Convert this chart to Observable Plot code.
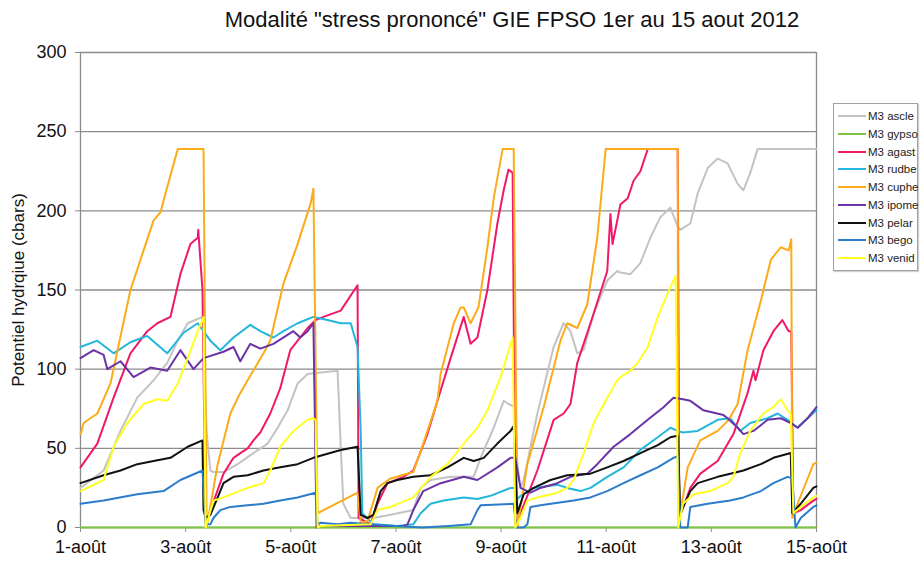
<!DOCTYPE html>
<html>
<head>
<meta charset="utf-8">
<script src="https://cdn.jsdelivr.net/npm/d3@7"></script>
<script src="https://cdn.jsdelivr.net/npm/@observablehq/plot@0.6"></script>
<style>
  body { margin: 0; background: #fff; font-family: "Liberation Sans", Arial, sans-serif; }
  #wrap { position: relative; width: 924px; height: 563px; overflow: hidden; background: #fff; }
  #title { position: absolute; left: 0; top: 0; width: 824px; padding-left: 100px; height: 36px;
           line-height: 40px; text-align: center; font-size: 22px; color: #111; white-space: nowrap; }
  #chart { position: absolute; left: 0; top: 36px; }
  #legend { position: absolute; left: 833px; top: 103px; width: 85px; height: 168px; box-sizing: border-box;
            border: 1px solid #a0a0a0; background: #fff; box-shadow: 1px 1px 1px #d0d0d0; }
  .item { position: absolute; left: 4px; height: 14px; font-size: 11.5px; line-height: 14px; color: #222; white-space: nowrap; }
  .item span.sw { position: absolute; left: 0; top: 6px; width: 28px; height: 2px; }
  .item span.tx { position: absolute; left: 30px; top: 0; }
</style>
</head>
<body>
<div id="wrap">
  <div id="title">Modalité "stress prononcé" GIE FPSO 1er au 15 aout 2012</div>
  <div id="chart"></div>
  <div id="legend"></div>
</div>
<script>
// ---- series names, colours, ticks ----
const seriesNames = ["M3 ascle","M3 gypso","M3 agast","M3 rudbe","M3 cuphe","M3 ipome","M3 pelar","M3 bego","M3 venid"];
const seriesColors = ["#c3c3c3","#7cc540","#f0186b","#22b6dc","#fbab1a","#6a33a6","#111111","#2b7ccb","#ffff22"];
const xTicks = [1,3,5,7,9,11,13,15];
const yTicks = [0,50,100,150,200,250,300];
const yLabel = "Potentiel hydrqiue (cbars)";

// ---- data: [day of August, potential (cbars)] ----
const ascle = [[1.00,25],[1.44,36],[1.76,61],[2.08,82],[2.39,93],[2.65,104],[2.85,118],[3.04,129],[3.32,133],[3.40,60],[3.47,36],[3.53,35],[3.72,35],[3.99,40],[4.29,47],[4.56,53],[4.75,63],[4.94,74],[5.13,91],[5.32,97],[5.62,98],[5.89,99],[5.95,51],[6.00,15],[6.14,6],[6.57,6],[6.90,8],[7.33,11],[7.47,25],[7.66,30],[8.04,32],[8.48,32],[8.61,44],[8.86,63],[9.05,80],[9.14,78],[9.27,76],[9.31,40],[9.37,25],[9.43,30],[9.69,72],[10.00,114],[10.19,129],[10.32,124],[10.45,110],[10.57,112],[10.76,135],[11.02,156],[11.21,162],[11.27,161],[11.46,160],[11.65,167],[11.84,183],[12.03,196],[12.22,202],[12.36,190],[12.41,188],[12.60,192],[12.74,211],[12.93,227],[13.12,233],[13.31,230],[13.50,217],[13.61,213],[13.74,224],[13.88,239],[15.00,239]];
const gypso = [[1.00,0],[15.00,0]];
const agast = [[1.00,38],[1.32,53],[1.63,82],[1.95,110],[2.27,124],[2.46,129],[2.71,133],[2.90,160],[3.09,179],[3.23,183],[3.24,188],[3.32,150],[3.38,4],[3.42,6],[3.72,34],[3.91,44],[4.04,47],[4.18,50],[4.29,55],[4.42,60],[4.61,72],[4.80,88],[4.99,112],[5.32,126],[5.47,131],[5.62,133],[5.95,137],[6.27,153],[6.29,6],[6.52,2],[6.65,15],[6.84,28],[7.14,32],[7.33,36],[7.60,59],[7.79,80],[8.04,107],[8.29,133],[8.42,116],[8.55,120],[8.74,150],[8.93,192],[9.05,213],[9.14,226],[9.22,224],[9.27,2],[9.37,9],[9.69,36],[10.00,68],[10.19,72],[10.32,78],[10.45,104],[10.76,135],[11.02,162],[11.08,198],[11.12,179],[11.27,204],[11.41,208],[11.52,219],[11.65,225],[11.79,239],[12.36,239],[12.39,6],[12.60,25],[12.79,34],[13.12,42],[13.42,59],[13.69,85],[13.80,99],[13.84,93],[13.99,112],[14.18,124],[14.35,131],[14.47,124],[14.52,124],[14.56,9],[14.70,11],[14.94,17],[15.00,18]];
const rudbe = [[1.00,114],[1.32,118],[1.63,110],[1.95,117],[2.27,121],[2.65,110],[2.96,123],[3.23,129],[3.47,118],[3.66,112],[3.91,120],[4.23,128],[4.42,124],[4.67,120],[4.86,124],[5.13,129],[5.43,133],[5.70,131],[5.95,129],[6.14,129],[6.27,114],[6.33,61],[6.36,9],[6.57,2],[7.03,1],[7.33,2],[7.47,9],[7.66,15],[7.91,17],[8.29,19],[8.55,18],[8.80,20],[9.18,25],[9.27,25],[9.31,18],[9.37,20],[9.62,25],[10.07,27],[10.26,25],[10.51,23],[10.70,25],[11.02,32],[11.33,38],[11.65,49],[11.98,57],[12.22,63],[12.36,61],[12.46,60],[12.74,61],[13.12,68],[13.36,69],[13.55,61],[13.74,66],[14.07,69],[14.26,72],[14.45,68],[14.64,63],[14.83,69],[15.00,74]];
const cuphe = [[1.00,59],[1.06,66],[1.32,72],[1.57,91],[1.95,150],[2.39,194],[2.52,199],[2.65,215],[2.85,239],[3.34,239],[3.40,0],[3.61,40],[3.85,72],[4.04,85],[4.18,93],[4.48,110],[4.61,118],[4.86,154],[5.13,179],[5.38,205],[5.43,214],[5.51,9],[6.27,22],[6.33,3],[6.46,4],[6.65,25],[6.90,31],[7.33,35],[7.52,53],[7.79,80],[7.85,97],[8.10,129],[8.23,139],[8.29,139],[8.42,129],[8.57,139],[8.74,177],[8.86,208],[9.03,239],[9.24,239],[9.31,0],[9.50,40],[9.81,76],[10.13,118],[10.26,129],[10.45,126],[10.64,141],[10.83,183],[10.99,239],[12.36,239],[12.37,0],[12.41,9],[12.55,38],[12.79,55],[13.12,61],[13.33,68],[13.50,78],[13.69,112],[13.94,143],[14.13,169],[14.32,177],[14.47,175],[14.52,182],[14.54,6],[14.64,15],[14.94,40],[15.00,41]];
const ipome = [[1.00,107],[1.25,112],[1.44,109],[1.51,100],[1.76,105],[2.01,95],[2.33,101],[2.65,99],[2.90,112],[3.15,100],[3.34,107],[3.72,111],[3.91,114],[4.04,105],[4.23,116],[4.42,113],[4.67,116],[5.05,124],[5.18,120],[5.32,124],[5.43,129],[5.49,0],[5.57,1],[6.50,1],[7.14,1],[7.22,2],[7.33,11],[7.52,23],[7.85,28],[8.29,32],[8.55,30],[8.93,38],[9.18,44],[9.27,44],[9.37,25],[9.56,22],[9.75,25],[10.07,28],[10.32,32],[10.64,34],[10.83,40],[11.14,51],[11.46,59],[11.79,68],[12.09,76],[12.28,82],[12.46,81],[12.60,80],[12.85,74],[13.23,71],[13.31,69],[13.50,63],[13.61,59],[13.80,61],[14.07,68],[14.32,69],[14.51,66],[14.64,63],[14.83,69],[15.00,76]];
const pelar = [[1.00,28],[1.44,33],[1.76,36],[2.08,40],[2.39,42],[2.71,44],[3.04,51],[3.32,55],[3.34,11],[3.38,6],[3.47,8],[3.61,19],[3.72,28],[3.91,32],[4.18,33],[4.48,36],[4.80,38],[5.13,40],[5.43,44],[5.95,49],[6.27,51],[6.33,8],[6.46,6],[6.57,8],[6.71,23],[6.84,28],[7.03,30],[7.33,32],[7.66,33],[7.98,38],[8.29,44],[8.48,42],[8.67,44],[8.93,53],[9.18,61],[9.24,64],[9.31,9],[9.43,21],[9.62,25],[9.94,30],[10.26,33],[10.70,34],[11.02,38],[11.33,42],[11.65,47],[11.98,52],[12.22,57],[12.36,58],[12.41,9],[12.60,23],[12.74,28],[13.12,32],[13.36,34],[13.61,36],[13.94,40],[14.18,44],[14.51,47],[14.54,9],[14.70,15],[14.94,25],[15.00,26]];
const bego = [[1.00,15],[1.44,17],[2.08,21],[2.58,23],[2.90,30],[3.32,36],[3.38,2],[3.47,2],[3.53,6],[3.66,11],[3.85,13],[4.18,14],[4.48,15],[4.80,17],[5.13,19],[5.47,22],[5.51,2],[5.57,3],[5.89,2],[6.14,3],[6.50,2],[7.00,1],[7.50,0],[8.00,1],[8.42,2],[8.55,11],[8.61,14],[9.24,15],[9.29,0],[9.43,0],[9.50,2],[9.56,13],[9.75,14],[10.38,17],[10.70,19],[11.02,23],[11.33,28],[11.65,33],[11.98,38],[12.28,44],[12.36,45],[12.41,0],[12.55,0],[12.60,13],[12.93,15],[13.36,17],[13.61,19],[13.94,23],[14.18,28],[14.45,32],[14.54,31],[14.60,0],[14.70,6],[14.94,13],[15.00,14]];
const venid = [[1.00,23],[1.44,30],[1.63,51],[1.89,66],[2.20,78],[2.46,81],[2.65,80],[2.85,91],[3.04,107],[3.23,124],[3.34,133],[3.38,0],[3.53,17],[3.72,19],[4.18,25],[4.48,28],[4.61,36],[4.80,51],[5.05,61],[5.32,68],[5.43,69],[5.47,68],[5.51,0],[5.57,1],[6.52,2],[6.65,11],[6.90,13],[7.33,19],[7.66,32],[7.98,40],[8.29,53],[8.55,63],[8.74,74],[8.99,95],[9.22,120],[9.27,0],[9.37,6],[9.50,17],[9.69,19],[10.07,22],[10.26,25],[10.38,30],[10.57,47],[10.76,66],[11.02,82],[11.21,93],[11.27,95],[11.46,99],[11.60,104],[11.79,114],[11.98,133],[12.17,148],[12.32,159],[12.37,0],[12.46,15],[12.66,21],[12.98,23],[13.31,28],[13.42,32],[13.55,47],[13.74,61],[13.99,72],[14.18,76],[14.32,81],[14.45,74],[14.51,72],[14.56,9],[14.70,13],[14.94,19],[15.00,20]];

const allSeries = [ascle, gypso, agast, rudbe, cuphe, ipome, pelar, bego, venid];
const rows = [];
allSeries.forEach((arr, i) => arr.forEach(([d, v]) => rows.push({day: d, value: v, series: seriesNames[i]})));

const gridColor = "#8c8c8c";
const chart = Plot.plot({
  width: 924,
  height: 527,
  marginLeft: 80,
  marginRight: 108,
  marginTop: 16,
  marginBottom: 36,
  style: {fontFamily: "'Liberation Sans', Arial, sans-serif", fontSize: "18px", color: "#111", background: "transparent"},
  x: {domain: [1, 15], label: null},
  y: {domain: [0, 300], label: null},
  color: {domain: seriesNames, range: seriesColors},
  marks: [
    Plot.gridY(yTicks, {stroke: gridColor, strokeOpacity: 1, strokeWidth: 1.3}),
    Plot.ruleX([1], {stroke: gridColor, strokeWidth: 1.3}),
    Plot.ruleX([15], {stroke: gridColor, strokeWidth: 1.3}),
    Plot.axisY(yTicks, {tickSize: 5, tickPadding: 9, stroke: gridColor, fill: "#111", label: null, fontSize: 18}),
    Plot.axisX(xTicks, {tickSize: 5, tickPadding: 8, stroke: gridColor, fill: "#111", label: null, fontSize: 18,
                        tickFormat: d => `${d}-août`}),
    Plot.text([yLabel], {frameAnchor: "left", rotate: -90, dx: -62, textAnchor: "middle", lineAnchor: "middle",
                         fontSize: 17, fill: "#111"}),
    Plot.line(rows, {x: "day", y: "value", z: "series", stroke: "series", strokeWidth: 2, curve: "linear"})
  ]
});
document.getElementById("chart").appendChild(chart);

// legend
const legend = document.getElementById("legend");
seriesNames.forEach((name, i) => {
  const it = document.createElement("div");
  it.className = "item";
  it.style.top = (5 + i * 17.75) + "px";
  const sw = document.createElement("span");
  sw.className = "sw";
  sw.style.background = seriesColors[i];
  const tx = document.createElement("span");
  tx.className = "tx";
  tx.textContent = name;
  it.appendChild(sw); it.appendChild(tx);
  legend.appendChild(it);
});
</script>
</body>
</html>
